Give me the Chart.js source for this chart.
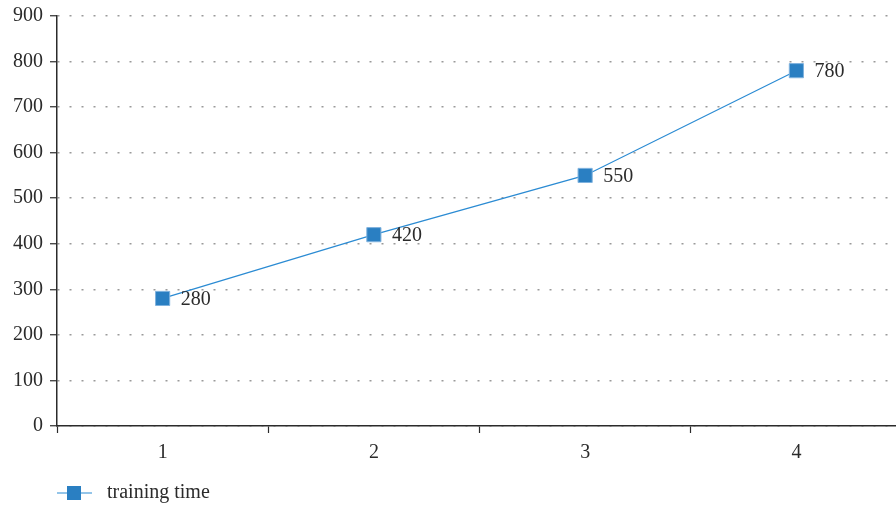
<!DOCTYPE html>
<html>
<head>
<meta charset="utf-8">
<script src="https://cdn.jsdelivr.net/npm/chart.js@4"></script>
<style>
  html, body { margin: 0; padding: 0; background: #fff; overflow: hidden; }
  #wrap { width: 913px; height: 506px; }
</style>
</head>
<body>
<div id="wrap"><canvas id="trainChart"></canvas></div>
<script>
const categories = ['1', '2', '3', '4'];
const trainingTime = [280, 420, 550, 780];
const seriesName = 'training time';
const yTicks = [0, 100, 200, 300, 400, 500, 600, 700, 800, 900];

const FONT = '"Liberation Serif", "Times New Roman", serif';
const LINE = '#2b8bd3';
const MARK = '#2a7fc2';
const INK = '#2b2b2b';

// value printed to the right of every marker
const valueLabels = {
    id: 'valueLabels',
    afterDatasetsDraw(chart) {
        const ctx = chart.ctx;
        const meta = chart.getDatasetMeta(0);
        ctx.save();
        ctx.font = '20px ' + FONT;
        ctx.fillStyle = INK;
        ctx.textAlign = 'left';
        ctx.textBaseline = 'middle';
        meta.data.forEach((pt, i) => {
            ctx.fillText(String(chart.data.datasets[0].data[i]), pt.x + 18, pt.y + 1);
        });
        ctx.restore();
    }
};

// legend below the axis: short line with a square marker
const bottomLegend = {
    id: 'bottomLegend',
    afterDraw(chart) {
        const ctx = chart.ctx;
        const y = 493;
        ctx.save();
        ctx.strokeStyle = LINE;
        ctx.lineWidth = 1.2;
        ctx.beginPath();
        ctx.moveTo(57, y);
        ctx.lineTo(92, y);
        ctx.stroke();
        ctx.fillStyle = MARK;
        ctx.fillRect(67, y - 7, 14, 14);
        ctx.font = '20px ' + FONT;
        ctx.fillStyle = INK;
        ctx.textBaseline = 'middle';
        ctx.fillText(chart.data.datasets[0].label, 107, y);
        ctx.restore();
    }
};

new Chart(document.getElementById('trainChart'), {
    type: 'line',
    data: {
        labels: categories,
        datasets: [{
            label: seriesName,
            data: trainingTime,
            borderColor: LINE,
            borderWidth: 1.2,
            tension: 0,
            fill: false,
            pointStyle: 'rect',
            pointRadius: 10,
            pointHoverRadius: 10,
            pointBackgroundColor: MARK,
            pointBorderColor: '#7fb2de',
            pointBorderWidth: 1
        }]
    },
    options: {
        responsive: true,
        maintainAspectRatio: false,
        animation: false,
        layout: { padding: { top: 16, right: 0, bottom: 44, left: 0 } },
        plugins: { legend: { display: false }, tooltip: { enabled: false } },
        scales: {
            x: {
                offset: true,
                grid: {
                    offset: true,
                    drawOnChartArea: false,
                    drawTicks: true,
                    tickLength: 7,
                    tickColor: INK,
                    tickWidth: 1.2
                },
                border: { display: true, color: INK, width: 1.5 },
                ticks: { color: INK, font: { family: FONT, size: 20 }, padding: 8 },
                afterFit(scale) { scale.height = 36; }
            },
            y: {
                min: 0,
                max: 900,
                afterBuildTicks(scale) { scale.ticks = yTicks.map(v => ({ value: v })); },
                grid: {
                    color: '#9a9a9a',
                    lineWidth: 1.5,
                    drawTicks: true,
                    tickLength: 7,
                    tickColor: INK,
                    tickWidth: 1.2,
                    tickBorderDash: []
                },
                // border.dash sets the dotted pattern of the grid lines
                border: { display: true, color: INK, width: 1.5, dash: [2, 10] },
                ticks: { color: INK, font: { family: FONT, size: 20 }, padding: 7 },
                afterFit(scale) {
                    scale.width = 57;
                    // let the top label overhang instead of pushing the plot down
                    scale.paddingTop = 0;
                    scale.paddingBottom = 0;
                }
            }
        }
    },
    plugins: [valueLabels, bottomLegend]
});
</script>
</body>
</html>
